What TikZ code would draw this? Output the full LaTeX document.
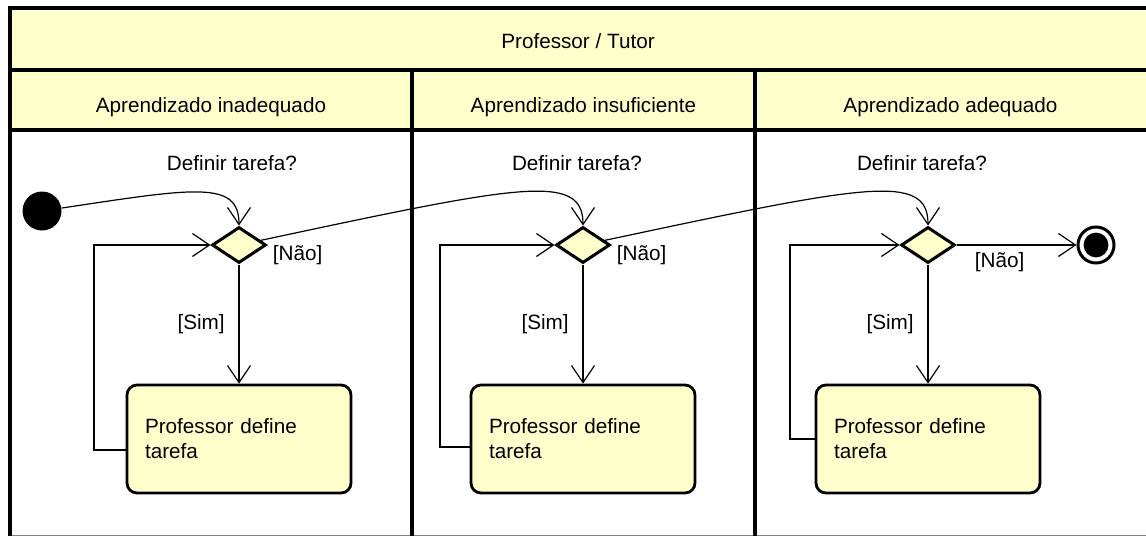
\documentclass[tikz,border=0pt]{standalone}
\usepackage{fontspec}
\setmainfont{Liberation Sans}
\usetikzlibrary{shapes.geometric,arrows.meta,positioning}
\definecolor{umlyellow}{RGB}{255,255,204}
\begin{document}
\begin{tikzpicture}[x=0.5pt,y=-0.5pt,
    font=\fontsize{10.35}{12.5}\selectfont,
    frame/.style={line width=1.8pt},
    decision/.style={diamond,draw,line width=1.5pt,fill=umlyellow,
      minimum width=27pt,minimum height=18pt,inner sep=0pt},
    action/.style={rectangle,draw,line width=1.4pt,rounded corners=5pt,
      fill=umlyellow,text width=94pt,align=left,inner xsep=9pt,
      minimum height=54pt},
    startnode/.style={circle,fill=black,minimum size=19.5pt,inner sep=0pt},
    endnode/.style={circle,draw,line width=1.5pt,fill=white,
      minimum size=18pt,inner sep=0pt,
      path picture={\fill[black] (path picture bounding box.center) circle (6.2pt);}},
    flow/.style={line width=0.6pt,-{Straight Barb[length=8.5pt,width=11.5pt]}}]
  \useasboundingbox (0,0) rectangle (1146,536);
  % swimlane frame
  \fill[umlyellow] (10,8) rectangle (1146,130);
  \draw[gray,line width=0.5pt] (10,535.5) -- (1146,535.5);
  \draw[frame] (1146,8) -- (10,8) -- (10,536);
  \draw[frame] (10,70) -- (1146,70);
  \draw[frame] (10,130) -- (1146,130);
  \draw[frame] (412,70) -- (412,536);
  \draw[frame] (755,70) -- (755,536);
  \node[anchor=base] (title) at (578,48) {Professor / Tutor};
  \node[anchor=base] (lane1) at (211,112) {Aprendizado inadequado};
  \node[anchor=base] (lane2) at (583.5,112) {Aprendizado insuficiente};
  \node[anchor=base] (lane3) at (950.5,112) {Aprendizado adequado};
  % nodes
  \node[startnode] (init) at (42,211) {};
  \node[decision] (d1) at (239,245) {};
  \node[decision] (d2) at (583,245) {};
  \node[decision] (d3) at (928,245) {};
  \node[above=23.75pt of d1,xshift=-3.5pt] (q1) {Definir tarefa?};
  \node[above=23.75pt of d2,xshift=-3pt] (q2) {Definir tarefa?};
  \node[above=23.75pt of d3,xshift=-3pt] (q3) {Definir tarefa?};
  \node[action] (a1) at (239,439) {Professor define\\tarefa};
  \node[action] (a2) at (583,439) {Professor define\\tarefa};
  \node[action] (a3) at (928,439) {Professor define\\tarefa};
  \node[endnode] (fin) at (1096,245) {};
  \coordinate (l1) at (94,450);
  \coordinate (l2) at (440,447);
  \coordinate (l3) at (790,439);
  % transitions
  \draw[flow] (init) .. controls (195,188) and (239,180) .. (d1.north);
  \draw[flow] (d1) .. controls (520,185) and (583,172) .. (d2.north);
  \draw[flow] (d2) .. controls (865,185) and (928,172) .. (d3.north);
  \draw[flow] (d1) -- node[left,xshift=-3.5pt] {[Sim]} (a1);
  \draw[flow] (d2) -- node[left,xshift=-3.5pt] {[Sim]} (a2);
  \draw[flow] (d3) -- node[left,xshift=-3.5pt] {[Sim]} (a3);
  \draw[flow] (a1.west |- l1) -- (l1) |- (d1.west);
  \draw[flow] (a2.west |- l2) -- (l2) |- (d2.west);
  \draw[flow] (a3.west |- l3) -- (l3) |- (d3.west);
  \node[anchor=west,inner sep=1pt] (n1) at ([xshift=1.5pt,yshift=-5pt]d1.east) {[Não]};
  \node[anchor=west,inner sep=1pt] (n2) at ([xshift=1.5pt,yshift=-5pt]d2.east) {[Não]};
  \draw[flow] (d3) -- node[below,pos=0.36] (n3) {[Não]} (fin);
\end{tikzpicture}
\end{document}
